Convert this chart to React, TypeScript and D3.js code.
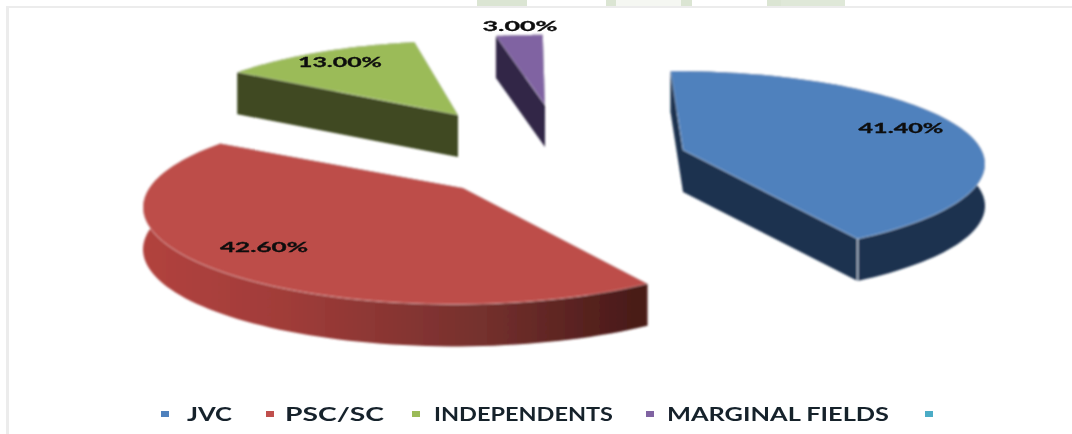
import React from "react";
import * as d3 from "d3";

const categories = ["JVC", "PSC/SC", "INDEPENDENTS", "MARGINAL FIELDS"];
const shares = [41.4, 42.6, 13.0, 3.0];
const shareLabels = ["41.40%", "42.60%", "13.00%", "3.00%"];
const legendNames = ["JVC", "PSC/SC", "INDEPENDENTS", "MARGINAL FIELDS", ""];
const legendColors = ["#4f81bd", "#c0504d", "#9bbb59", "#8064a2", "#4bacc6"];
const topColors = ["#4f81bd", "#bd4d4a", "#9bbb59", "#8064a2"];
const wallColors = ["#1c3250", "#6b2b29", "#3f4a20", "#302646"];

const rx = 312;
const depth = 42;
const apexes: [number, number][] = [[683, 150], [463, 188], [458, 115], [545, 105]];
const sliceRy = [93, 97, 95, 90];
const sliceTilt = [0.15, 0.2, 0.22, 0.22];
const sliceShiftX = [-10, -8, 4, 0];
const sliceScaleX = [1, 1, 0.97, 1];
const labelAt: [number, number][] = [[901, 129], [264, 248], [340, 63], [520, 27]];
const labelWidth = [85, 88, 84, 75];
const legendText: [number, number][] = [[187, 45], [285, 99], [434, 179], [667, 222], [0, 0]];
const legendDot = [165, 270, 416, 650, 929];
const topBlocks: [number, number, string][] = [
  [477, 527, "#dbe5d3"], [606, 616, "#dbe5d3"], [616, 681, "#f5f7f2"], [681, 692, "#dbe5d3"],
  [767, 781, "#dbe5d3"], [781, 845, "#dfe8d8"],
];

const pie = d3.pie<number>().sort(null).startAngle(-0.5 * Math.PI / 180).endAngle(2 * Math.PI - 0.5 * Math.PI / 180);
const arcs = pie(shares);

function project(i: number, th: number): [number, number] {
  const t = sliceTilt[i];
  const x = Math.sin(th);
  const y = -Math.cos(th);
  const w = 1 - t * y;
  return [
    (x * Math.sqrt(1 - t * t)) / w * rx * sliceScaleX[i] + sliceShiftX[i],
    ((y - t) / w + t) * sliceRy[i],
  ];
}

export default function App() {
  const line = d3.line();
  const shapes = arcs.map((a, i) => {
    const [ax, ay] = apexes[i];
    const n = 90;
    const pts = d3.range(n + 1).map((k) => {
      const th = a.startAngle + ((a.endAngle - a.startAngle) * k) / n;
      const p = project(i, th);
      return [ax + p[0], ay + p[1]] as [number, number];
    });
    const down = (p: [number, number]): [number, number] => [p[0], p[1] + depth];
    const apex: [number, number] = [ax, ay];
    return {
      top: line([apex, ...pts])! + "Z",
      rim: line([...pts, ...pts.slice().reverse().map(down)])! + "Z",
      cutA: line([apex, pts[0], down(pts[0]), down(apex)])! + "Z",
      cutB: line([apex, pts[n], down(pts[n]), down(apex)])! + "Z",
      seam: line([pts[n], down(pts[n])])!,
    };
  });
  const order = [3, 2, 1, 0];
  return (
    <svg
      width={1072}
      height={434}
      style={{ position: "absolute", left: 0, top: 0, background: "#ffffff" }}
      fontFamily="Lato, 'Open Sans', sans-serif"
    >
      <defs>
        <filter id="soft" x="-5%" y="-5%" width="110%" height="110%">
          <feGaussianBlur stdDeviation="0.9" />
        </filter>
        <filter id="softText" x="-5%" y="-20%" width="110%" height="140%">
          <feGaussianBlur stdDeviation="0.6" />
        </filter>
        <linearGradient id="redRim" gradientUnits="userSpaceOnUse" x1="140" x2="632" y1="0" y2="0">
          <stop offset="0" stopColor="#b2433f" />
          <stop offset="0.3" stopColor="#a03c39" />
          <stop offset="0.7" stopColor="#74302d" />
          <stop offset="1" stopColor="#4a1b19" />
        </linearGradient>
      </defs>
      {topBlocks.map(([a, b, c]) => (
        <rect key={a} x={a} y={0} width={b - a} height={6} fill={c} />
      ))}
      <rect x={6} y={6} width={1066} height={2} fill="#ececec" />
      <rect x={6} y={6} width={3} height={428} fill="#ececec" />
      <g filter="url(#soft)">
        {order.map((i) => (
          <g key={categories[i]}>
            <path d={shapes[i].cutA} fill={wallColors[i]} />
            <path d={shapes[i].cutB} fill={wallColors[i]} />
            <path d={shapes[i].rim} fill={i === 1 ? "url(#redRim)" : wallColors[i]} />
            <path d={shapes[i].top} fill={topColors[i]} stroke="#ffffff" strokeOpacity={0.35} strokeWidth={1} />
            {i === 0 && <path d={shapes[i].seam} stroke="#b9c6d6" strokeWidth={1.5} fill="none" />}
          </g>
        ))}
      </g>
      <g filter="url(#softText)" fontSize={14} fontWeight={700} fill="#0c0c0c" textAnchor="middle">
        {shareLabels.map((t, i) => (
          <text
            key={t}
            x={labelAt[i][0]}
            y={labelAt[i][1]}
            dominantBaseline="middle"
            stroke="#0c0c0c"
            strokeWidth={0.3}
            textLength={labelWidth[i]}
            lengthAdjust="spacingAndGlyphs"
          >
            {t}
          </text>
        ))}
      </g>
      <g filter="url(#softText)">
        {legendNames.map((t, i) => (
          <g key={i}>
            <rect x={legendDot[i] - 4} y={411} width={8} height={6} fill={legendColors[i]} />
            {t && (
              <text
                x={legendText[i][0]}
                y={421}
                fontSize={18}
                fontWeight={700}
                fill="#14202c"
                textLength={legendText[i][1]}
                lengthAdjust="spacingAndGlyphs"
              >
                {t}
              </text>
            )}
          </g>
        ))}
      </g>
    </svg>
  );
}
